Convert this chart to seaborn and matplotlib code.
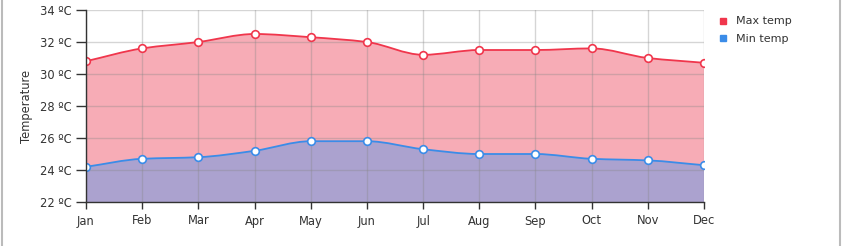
import numpy as np
import pandas as pd
import matplotlib
matplotlib.use("Agg")
import matplotlib.pyplot as plt
import seaborn as sns
from matplotlib.path import Path
from matplotlib.patches import PathPatch, Rectangle
from matplotlib.lines import Line2D

months = ["Jan", "Feb", "Mar", "Apr", "May", "Jun", "Jul", "Aug", "Sep", "Oct", "Nov", "Dec"]
max_temp = [30.8, 31.6, 32.0, 32.5, 32.3, 32.0, 31.2, 31.5, 31.5, 31.6, 31.0, 30.7]
min_temp = [24.2, 24.7, 24.8, 25.2, 25.8, 25.8, 25.3, 25.0, 25.0, 24.7, 24.6, 24.3]
y_ticks = [22, 24, 26, 28, 30, 32, 34]
series_names = ["Max temp", "Min temp"]

sns.set_theme(style="white")
plt.rcParams['font.family'] = ['DejaVu Sans']

RED = "#f0364c"
BLUE = "#3b8ce8"
PINK = "#f7acb6"
PURPLE = "#aba2cf"


def smooth_path(xs, ys, base=None):
    xs = np.asarray(xs, float)
    ys = np.asarray(ys, float)
    n = len(xs)
    d = np.diff(ys) / np.diff(xs)
    m = np.zeros(n)
    m[0], m[-1] = d[0], d[-1]
    for i in range(1, n - 1):
        if d[i - 1] * d[i] <= 0:
            m[i] = 0
        else:
            m[i] = 2 / (1 / d[i - 1] + 1 / d[i])
    verts = [(xs[0], ys[0])]
    codes = [Path.MOVETO]
    for i in range(n - 1):
        h = xs[i + 1] - xs[i]
        verts += [(xs[i] + h / 3, ys[i] + m[i] * h / 3),
                  (xs[i + 1] - h / 3, ys[i + 1] - m[i + 1] * h / 3),
                  (xs[i + 1], ys[i + 1])]
        codes += [Path.CURVE4] * 3
    if base is not None:
        verts += [(xs[-1], base), (xs[0], base), (xs[0], ys[0])]
        codes += [Path.LINETO, Path.LINETO, Path.CLOSEPOLY]
    return Path(verts, codes)


df = pd.DataFrame({
    "month": months * 2,
    "x": list(range(len(months))) * 2,
    "temp": max_temp + min_temp,
    "series": [series_names[0]] * len(months) + [series_names[1]] * len(months),
})

fig = plt.figure(figsize=(8.42, 2.46), dpi=100)
ax = fig.add_axes([86 / 842, 1 - 202 / 246, (704 - 86) / 842, (202 - 10) / 246])

x = np.arange(len(months))
ax.add_patch(PathPatch(smooth_path(x, max_temp, 22), facecolor=PINK, edgecolor="none", zorder=1))
ax.add_patch(PathPatch(smooth_path(x, min_temp, 22), facecolor=PURPLE, edgecolor="none", zorder=1.1))
ax.add_patch(PathPatch(smooth_path(x, max_temp), facecolor="none", edgecolor=RED, lw=1.3, zorder=3))
ax.add_patch(PathPatch(smooth_path(x, min_temp), facecolor="none", edgecolor=BLUE, lw=1.3, zorder=3))

sns.lineplot(data=df, x="x", y="temp", hue="series", palette=[RED, BLUE],
             linestyle="none", marker="o", markersize=5.5, markerfacecolor="white",
             markeredgewidth=1.2, legend=False, ax=ax, zorder=4)
for line, c in zip(ax.lines, [RED, BLUE]):
    line.set_markeredgecolor(c)

ax.set_xlim(0, len(months) - 1)
ax.set_ylim(22, 34)
ax.set_xticks(x)
ax.set_xticklabels(months)
ax.set_yticks(y_ticks)
ax.set_yticklabels([f"{v} ºC" for v in y_ticks])
ax.set_xlabel("")
ax.set_ylabel("Temperature", fontsize=8.3, color="#333333", labelpad=5)
ax.grid(True, color="#888888", alpha=0.35, lw=1)
ax.set_axisbelow(False)
for s in ["top", "right"]:
    ax.spines[s].set_visible(False)
for s in ["left", "bottom"]:
    ax.spines[s].set_color("#333333")
    ax.spines[s].set_linewidth(1)
    ax.spines[s].set_zorder(5)
ax.tick_params(axis="both", which="both", direction="out", width=1,
               color="#333333", labelsize=8.3, labelcolor="#333333",
               left=True, bottom=True)
ax.tick_params(axis="y", length=7, pad=3)
ax.tick_params(axis="x", length=5, pad=4)

handles = [Line2D([], [], marker="s", linestyle="none", color=c, markersize=4.5)
           for c in [RED, BLUE]]
fig.legend(handles, series_names, loc="upper left", bbox_to_anchor=(714 / 842, 1 - 12 / 246),
           frameon=False, fontsize=8, handlelength=0.8, handletextpad=0.8,
           labelspacing=0.7, borderaxespad=0, labelcolor="#333333")

fig.add_artist(Rectangle((1.5 / 842, -0.1), (839.5 - 1.5) / 842, 1.2, transform=fig.transFigure,
                         fill=False, edgecolor="#bbbbbb", lw=1.5))

fig.savefig("out.png", dpi=100)
